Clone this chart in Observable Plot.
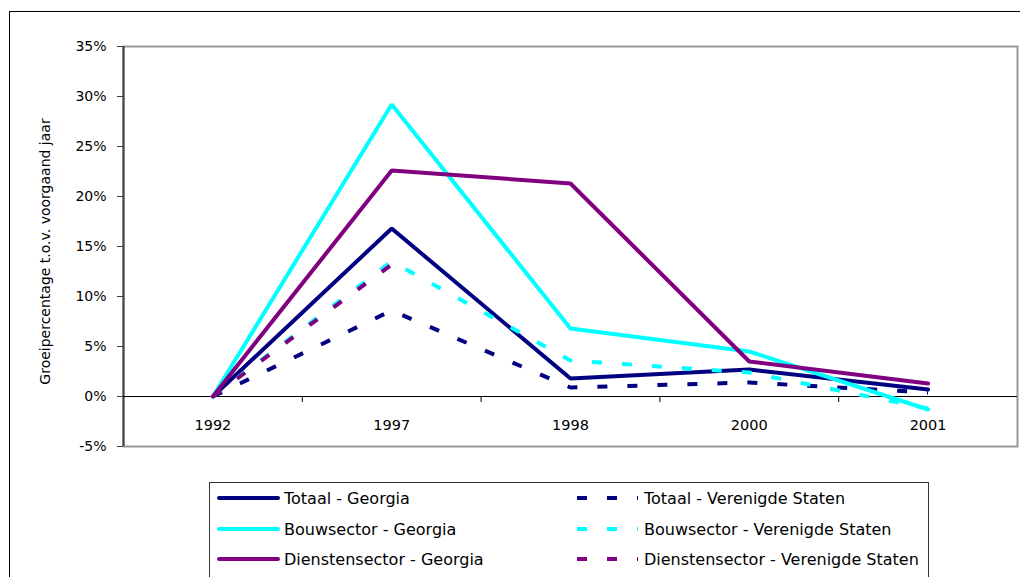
<!DOCTYPE html>
<html>
<head>
<meta charset="utf-8">
<script src="https://cdn.jsdelivr.net/npm/d3@7"></script>
<script src="https://cdn.jsdelivr.net/npm/@observablehq/plot@0.6"></script>
<style>
  html, body { margin: 0; padding: 0; background: #fff; }
  body { width: 1025px; height: 577px; position: relative; overflow: hidden; font-family: "DejaVu Sans", sans-serif; }
  #outer { position: absolute; left: 9px; top: 11px; width: 1011px; height: 700px; border-left: 1px solid #000; border-top: 1px solid #000; box-sizing: border-box; }
  #chart { position: absolute; left: 0; top: 0; }
  #legend { position: absolute; left: 209px; top: 482px; width: 720px; height: 140px; border: 1px solid #333; box-sizing: border-box; background: #fff; }
  .item { position: absolute; display: flex; align-items: center; height: 20px; font-size: 16px; color: #000; white-space: nowrap; }
  .item svg { display: block; margin-right: 4px; }
</style>
</head>
<body>
<div id="outer"></div>
<div id="chart"></div>
<div id="legend"></div>
<script>
// ---- data ----
const years = ["1992", "1997", "1998", "2000", "2001"];
const totaalGeorgia = [0, 16.8, 1.8, 2.7, 0.7];
const bouwGeorgia = [0, 29.2, 6.8, 4.5, -1.3];
const dienstenGeorgia = [0, 22.6, 21.3, 3.5, 1.3];
const totaalVS = [0, 8.6, 0.9, 1.4, 0.4];
const bouwVS = [0, 13.5, 3.6, 2.4, -1.2];
const dienstenVS = [0, 13.2];
const yTicks = [-5, 0, 5, 10, 15, 20, 25, 30, 35];
const yLabel = "Groeipercentage t.o.v. voorgaand jaar";

const series = [
  {name: "Totaal - Georgia", values: totaalGeorgia, color: "#000080", dashed: false},
  {name: "Totaal - Verenigde Staten", values: totaalVS, color: "#000080", dashed: true},
  {name: "Bouwsector - Georgia", values: bouwGeorgia, color: "#00FFFF", dashed: false},
  {name: "Bouwsector - Verenigde Staten", values: bouwVS, color: "#00FFFF", dashed: true},
  {name: "Dienstensector - Georgia", values: dienstenGeorgia, color: "#800080", dashed: false},
  {name: "Dienstensector - Verenigde Staten", values: dienstenVS, color: "#800080", dashed: true}
];
const DASH = "10,20";

const idx = years.map((d, i) => i);
const boundaries = idx.slice(1).map(i => i - 0.5);

const lineMarks = series.map(s =>
  Plot.line(s.values.map((v, i) => ({i, v})), {
    x: "i", y: "v",
    stroke: s.color, strokeWidth: 4,
    strokeDasharray: s.dashed ? DASH : null,
    strokeLinecap: s.dashed ? "butt" : "round",
    strokeLinejoin: "miter"
  })
);

const plot = Plot.plot({
  width: 1025,
  height: 470,
  marginLeft: 123,
  marginRight: 8,
  marginTop: 46,
  marginBottom: 24,
  style: {fontFamily: "DejaVu Sans, sans-serif", background: "transparent", overflow: "visible"},
  x: {domain: [-0.5, years.length - 0.5], axis: null},
  y: {domain: [-5, 35], axis: null},
  marks: [
    Plot.frame({stroke: "#999", strokeWidth: 2}),
    Plot.ruleX([-0.5], {stroke: "#404040", strokeWidth: 2}),
    Plot.axisY({ticks: yTicks, tickFormat: d => d + "%", tickSize: 6, tickPadding: 11, fontSize: 14, stroke: "#404040", color: "#000", label: null}),
    Plot.ruleY([0], {stroke: "#000", strokeWidth: 1}),
    Plot.ruleX(boundaries, {y1: 0, y2: -0.6, stroke: "#000", strokeWidth: 1}),
    Plot.text(years, {x: (d, i) => i, y: -2.9, text: d => d, fontSize: 14.5, fill: "#000"}),
    Plot.text([yLabel], {frameAnchor: "left", textAnchor: "middle", text: d => d, rotate: -90, dx: -78, dy: 5, fontSize: 14, fill: "#000"}),
    ...lineMarks
  ]
});
document.getElementById("chart").appendChild(plot);

// ---- legend ----
const legend = document.getElementById("legend");
const colOrder = [
  [series[0], series[2], series[4]],
  [series[1], series[3], series[5]]
];
const colLeft = [7, 367];
const rowTop = [5, 36, 66];
colOrder.forEach((col, c) => {
  col.forEach((s, r) => {
    const it = document.createElement("div");
    it.className = "item";
    it.style.left = colLeft[c] + "px";
    it.style.top = rowTop[r] + "px";
    const svg = d3.create("svg").attr("width", 63).attr("height", 8);
    svg.append("line")
      .attr("x1", s.dashed ? 0 : 2).attr("x2", 61)
      .attr("y1", 4).attr("y2", 4)
      .attr("stroke", s.color).attr("stroke-width", 4)
      .attr("stroke-linecap", s.dashed ? "butt" : "round")
      .attr("stroke-dasharray", s.dashed ? DASH : null);
    it.appendChild(svg.node());
    const t = document.createElement("span");
    t.textContent = s.name;
    it.appendChild(t);
    legend.appendChild(it);
  });
});
</script>
</body>
</html>
